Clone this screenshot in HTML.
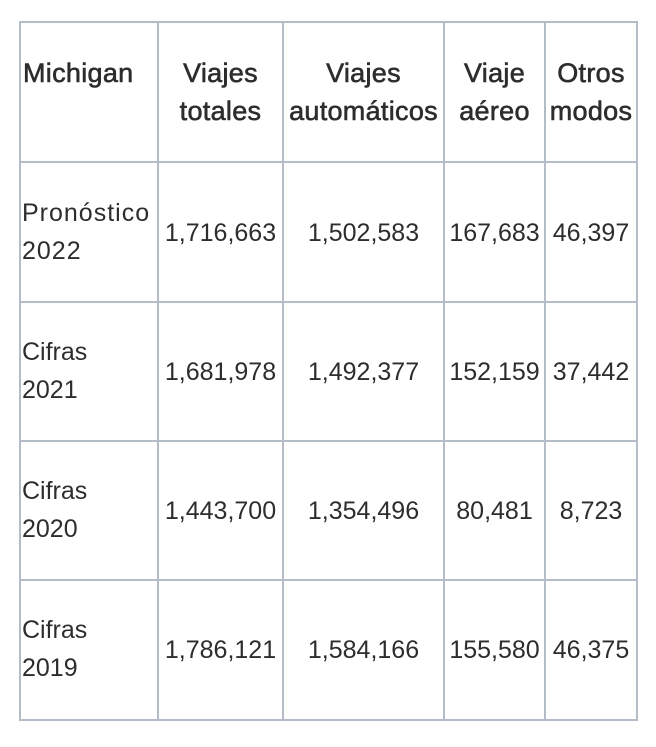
<!DOCTYPE html>
<html><head><meta charset="utf-8"><style>
html,body{margin:0;padding:0;background:#fff;width:656px;height:747px;overflow:hidden;position:relative;font-family:"Liberation Sans","DejaVu Sans",sans-serif;color:#2d2d2d;}
.h{position:absolute;background:#b3bcc7;height:2px;}
.v{position:absolute;background:#b3bcc7;width:2px;}
.t{position:absolute;font-size:25px;line-height:38px;white-space:nowrap;}
.c{text-align:center;}
.b{font-size:27px;letter-spacing:0.3px;-webkit-text-stroke:0.6px #2d2d2d;color:#2d2d2d;}
</style></head><body>
<div class="h" style="left:19px;top:21px;width:619px"></div>
<div class="h" style="left:19px;top:161px;width:619px"></div>
<div class="h" style="left:19px;top:301px;width:619px"></div>
<div class="h" style="left:19px;top:440px;width:619px"></div>
<div class="h" style="left:19px;top:579px;width:619px"></div>
<div class="h" style="left:19px;top:719px;width:619px"></div>
<div class="v" style="left:19px;top:21px;height:700px"></div>
<div class="v" style="left:157px;top:21px;height:700px"></div>
<div class="v" style="left:282px;top:21px;height:700px"></div>
<div class="v" style="left:443px;top:21px;height:700px"></div>
<div class="v" style="left:544px;top:21px;height:700px"></div>
<div class="v" style="left:636px;top:21px;height:700px"></div>

<div class="t b" style="left:23px;top:54px">Michigan</div>
<div class="t b c" style="left:159px;width:123px;top:54px">Viajes<br>totales</div>
<div class="t b c" style="left:284px;width:159px;top:54px">Viajes<br>automáticos</div>
<div class="t b c" style="left:445px;width:99px;top:54px">Viaje<br>aéreo</div>
<div class="t b c" style="left:546px;width:90px;top:54px">Otros<br>modos</div>

<div class="t" style="left:22px;top:194px;letter-spacing:1px">Pronóstico<br>2022</div>
<div class="t c" style="left:159px;width:123px;top:214px">1,716,663</div>
<div class="t c" style="left:284px;width:159px;top:214px">1,502,583</div>
<div class="t c" style="left:445px;width:99px;top:214px">167,683</div>
<div class="t c" style="left:546px;width:90px;top:214px">46,397</div>

<div class="t" style="left:22px;top:333px">Cifras<br>2021</div>
<div class="t c" style="left:159px;width:123px;top:353px">1,681,978</div>
<div class="t c" style="left:284px;width:159px;top:353px">1,492,377</div>
<div class="t c" style="left:445px;width:99px;top:353px">152,159</div>
<div class="t c" style="left:546px;width:90px;top:353px">37,442</div>

<div class="t" style="left:22px;top:472px">Cifras<br>2020</div>
<div class="t c" style="left:159px;width:123px;top:492px">1,443,700</div>
<div class="t c" style="left:284px;width:159px;top:492px">1,354,496</div>
<div class="t c" style="left:445px;width:99px;top:492px">80,481</div>
<div class="t c" style="left:546px;width:90px;top:492px">8,723</div>

<div class="t" style="left:22px;top:611px">Cifras<br>2019</div>
<div class="t c" style="left:159px;width:123px;top:631px">1,786,121</div>
<div class="t c" style="left:284px;width:159px;top:631px">1,584,166</div>
<div class="t c" style="left:445px;width:99px;top:631px">155,580</div>
<div class="t c" style="left:546px;width:90px;top:631px">46,375</div>
</body></html>
